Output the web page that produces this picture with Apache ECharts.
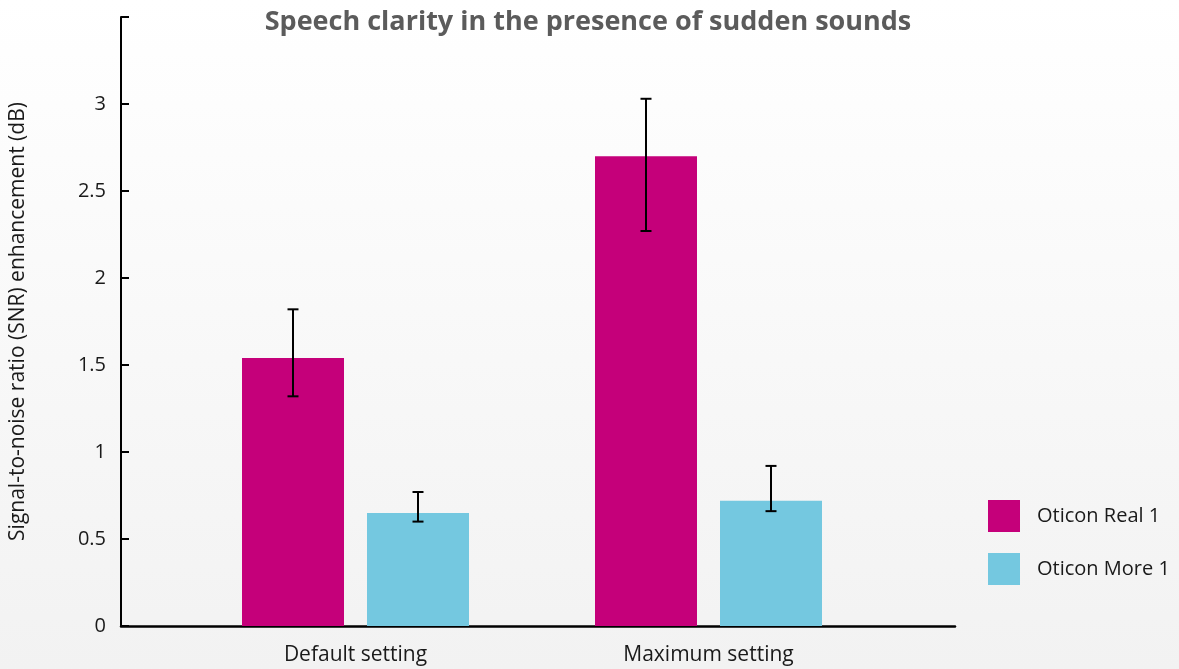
<!DOCTYPE html>
<html>
<head>
<meta charset="utf-8">
<script src="https://cdn.jsdelivr.net/npm/echarts@6/dist/echarts.min.js"></script>
<style>
html,body{margin:0;padding:0;width:1179px;height:669px;overflow:hidden;background:linear-gradient(#ffffff,#f2f2f2);}
#c{width:1179px;height:669px;}
</style>
</head>
<body>
<div id="c"></div>
<script>
var categories = ['Default setting', 'Maximum setting'];
var seriesNames = ['Oticon Real 1', 'Oticon More 1'];
var realValues = [1.54, 2.70];
var moreValues = [0.65, 0.72];
var realLow = [1.32, 2.27];
var realHigh = [1.82, 3.03];
var moreLow = [0.60, 0.66];
var moreHigh = [0.77, 0.92];
var yTicks = [0, 0.5, 1, 1.5, 2, 2.5, 3];

var FONT = 'Open Sans';
var BAR_W = 102, BAR_GAP = 23;

function errSeries(low, high, idx) {
  var data = low.map(function (l, i) { return [i, l, high[i]]; });
  return {
    type: 'custom', xAxisIndex: 1, yAxisIndex: 1, z: 10,
    data: data,
    renderItem: function (params, api) {
      var x = api.value(0);
      var pLow = api.coord([x, api.value(1)]);
      var pHigh = api.coord([x, api.value(2)]);
      var off = (idx === 0 ? -1 : 1) * (BAR_W + BAR_GAP) / 2;
      var cx = pLow[0] + off;
      var cap = 5.5;
      var st = { stroke: '#000', lineWidth: 2 };
      return { type: 'group', children: [
        { type: 'line', shape: { x1: cx, y1: pHigh[1], x2: cx, y2: pLow[1] }, style: st },
        { type: 'line', shape: { x1: cx - cap, y1: pHigh[1], x2: cx + cap, y2: pHigh[1] }, style: st },
        { type: 'line', shape: { x1: cx - cap, y1: pLow[1], x2: cx + cap, y2: pLow[1] }, style: st }
      ]};
    }
  };
}

var chart = echarts.init(document.getElementById('c'));
chart.setOption({
  backgroundColor: 'transparent',
  animation: false,
  textStyle: { fontFamily: FONT },
  title: {
    text: 'Speech clarity in the presence of sudden sounds',
    left: 583, top: 4, textAlign: 'center',
    textStyle: { fontFamily: FONT, fontWeight: 'bold', fontSize: 27, color: '#5b5b5b' }
  },
  legend: {
    orient: 'vertical', left: 983, top: 495,
    itemWidth: 32, itemHeight: 32, itemGap: 21,
    icon: 'rect',
    data: seriesNames,
    textStyle: { fontFamily: FONT, fontSize: 20, color: '#1a1a1a', padding: [0, 0, 0, 12] }
  },
  grid: [
    { left: 118, right: 224, top: 17, bottom: 43 },
    { left: 179, right: 294, top: 17, bottom: 43 }
  ],
  xAxis: [
    { type: 'category', gridIndex: 0, data: categories,
      axisLine: { lineStyle: { color: '#000', width: 2.5 } },
      axisTick: { show: false }, axisLabel: { show: false } },
    { type: 'category', gridIndex: 1, data: categories,
      axisLine: { show: false }, axisTick: { show: false },
      axisLabel: { fontFamily: FONT, fontSize: 21, color: '#1a1a1a', margin: 19 } }
  ],
  yAxis: [
    { type: 'value', gridIndex: 0, min: 0, max: 3.5, interval: 0.5,
      name: 'Signal-to-noise ratio (SNR) enhancement (dB)',
      nameLocation: 'middle', nameGap: 92,
      nameTextStyle: { fontFamily: FONT, fontSize: 21, color: '#1a1a1a' },
      axisLine: { show: true, lineStyle: { color: '#000', width: 2 } },
      axisTick: { show: true, inside: true, length: 8, lineStyle: { color: '#000', width: 2 } },
      splitLine: { show: false },
      axisLabel: { fontFamily: FONT, fontSize: 20, color: '#1a1a1a', margin: 15,
        formatter: function (v) { return yTicks.indexOf(v) >= 0 ? String(v) : ''; } } },
    { type: 'value', gridIndex: 1, min: 0, max: 3.5, interval: 0.5, show: false }
  ],
  series: [
    { name: seriesNames[0], type: 'bar', xAxisIndex: 1, yAxisIndex: 1,
      data: realValues, barWidth: BAR_W, barGap: (BAR_GAP / BAR_W * 100) + '%',
      itemStyle: { color: '#c5007a' } },
    { name: seriesNames[1], type: 'bar', xAxisIndex: 1, yAxisIndex: 1,
      data: moreValues, barWidth: BAR_W, barGap: (BAR_GAP / BAR_W * 100) + '%',
      itemStyle: { color: '#74c8e0' } },
    errSeries(realLow, realHigh, 0),
    errSeries(moreLow, moreHigh, 1)
  ]
});
</script>
</body>
</html>
